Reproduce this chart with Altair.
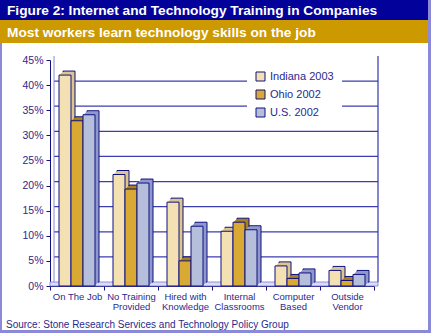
import json
import altair as alt
import pandas as pd

# ---------------- data ----------------
categories = ["On The Job", "No Training Provided", "Hired with Knowledge",
              "Internal Classrooms", "Computer Based", "Outside Vendor"]
label_lines = [["On The Job"], ["No Training", "Provided"], ["Hired with", "Knowledge"],
               ["Internal", "Classrooms"], ["Computer", "Based"], ["Outside", "Vendor"]]
series = ["Indiana 2003", "Ohio 2002", "U.S. 2002"]
indiana_2003 = [42.0, 22.2, 16.7, 10.9, 4.0, 3.1]
ohio_2002 = [32.9, 19.3, 5.0, 12.7, 1.5, 1.1]
us_2002 = [34.1, 20.5, 11.9, 11.2, 2.6, 2.3]
y_ticks = [0, 5, 10, 15, 20, 25, 30, 35, 40, 45]
grid_values = [5, 10, 15, 20, 25, 30, 35, 40]

title_text = "Figure 2: Internet and Technology Training in Companies"
subtitle_text = "Most workers learn technology skills on the job"
source_text = "Source: Stone Research Services and Technology Policy Group"

# ---------------- styles ----------------
front_colors = ["#f3e1b3", "#d9aa33", "#b5bfdc"]
side_colors = {"Indiana 2003": "#dcc690", "Ohio 2002": "#a9801e", "U.S. 2002": "#8f98cc"}
NAVY = "#10107e"
TEXT = "#2a2a8c"
FONT = "Liberation Sans"

rows = []
for i, c in enumerate(categories):
    for s, vals in zip(series, [indiana_2003, ohio_2002, us_2002]):
        rows.append({"category": c, "series": s, "value": vals[i], "side": side_colors[s]})
df = pd.DataFrame(rows)
grid_df = pd.DataFrame({"value": grid_values})
one = pd.DataFrame({"a": [0]})

W, H = 324, 226
BAND = W / len(categories)
PAD_L, PAD_T = 50, 60
TOTAL_W, TOTAL_H = 431, 333

label_map = json.dumps(dict(zip(categories, label_lines)))

x_enc = alt.X("category:N", sort=categories,
              scale=alt.Scale(paddingInner=0, paddingOuter=0),
              axis=alt.Axis(title=None, labelAngle=0, tickBand="extent",
                            labelExpr=f"{label_map}[datum.value]",
                            labelFont=FONT, labelFontSize=9.5, labelColor=TEXT,
                            labelLineHeight=10.5, labelPadding=1,
                            tickSize=4, tickColor=NAVY, domainColor=NAVY,
                            labelBaseline="top"))
y_scale = alt.Scale(domain=[0, 45], nice=False)
y_enc = alt.Y("value:Q", scale=y_scale,
              axis=alt.Axis(title=None, values=y_ticks, labelExpr="datum.value + '%'",
                            labelFont=FONT, labelFontSize=10.5, labelColor=TEXT,
                            tickSize=4, tickColor=NAVY, domainColor=NAVY,
                            labelPadding=3, grid=False))


def xoff(shift):
    return alt.XOffset("series:N", sort=series,
                       scale=alt.Scale(domain=series, paddingOuter=0.75, paddingInner=0,
                                       range=[shift, BAND + shift]))


def rect(x1, x2, y1, y2, color):
    return alt.Chart(one).mark_rect(color=color).encode(
        x=alt.value(x1 - PAD_L), x2=alt.value(x2 - PAD_L),
        y=alt.value(y1 - PAD_T), y2=alt.value(y2 - PAD_T))


def text(x, y, s, size, color, bold=False):
    return alt.Chart(one).mark_text(
        text=s, align="left", baseline="alphabetic", font=FONT,
        fontSize=size, fontWeight="bold" if bold else "normal", color=color
    ).encode(x=alt.value(x - PAD_L), y=alt.value(y - PAD_T))


frame = [
    rect(0, 2, 43, TOTAL_H, "#8a8ad8"),
    rect(428, TOTAL_W, 0, TOTAL_H, "#8a8ad8"),
    rect(0, TOTAL_W, 330, TOTAL_H, "#8a8ad8"),
    rect(0, 428, 0, 20, "#02029a"),
    rect(0, 428, 20, 43, "#cc9900"),
    text(7, 15, title_text, 13.7, "white", bold=True),
    text(7, 37, subtitle_text, 13.7, "white", bold=True),
    text(6, 327.5, source_text, 10, TEXT),
]

floor = alt.Chart(one).mark_rect(color="#dcdcf6", stroke="#7a7ad0", strokeWidth=0.8).encode(
    x=alt.value(0), x2=alt.value(W + 4), y=alt.value(H - 4), y2=alt.value(H))
left_wall = alt.Chart(one).mark_rule(color="#8a8ad8", strokeWidth=1).encode(
    x=alt.value(4), y=alt.value(-4), y2=alt.value(H - 4))
right_wall = alt.Chart(one).mark_rule(color="#3535b0", strokeWidth=1.2).encode(
    x=alt.value(W + 4), y=alt.value(-4), y2=alt.value(H - 4))
grid = alt.Chart(grid_df).mark_rule(color="#3d3db2", strokeWidth=1.2, yOffset=-4).encode(
    y=y_enc, x=alt.value(4), x2=alt.value(W + 4))

extrusions = []
for k in [4, 3, 2, 1]:
    extrusions.append(
        alt.Chart(df).mark_bar(yOffset=-k,
                               stroke=NAVY if k == 4 else None,
                               strokeWidth=1 if k == 4 else 0).encode(
            x=x_enc, xOffset=xoff(k), y=y_enc,
            fill=alt.Fill("side:N", scale=None)))

front = alt.Chart(df).mark_bar(stroke=NAVY, strokeWidth=1).encode(
    x=x_enc, xOffset=xoff(0), y=y_enc,
    fill=alt.Fill("series:N", sort=series,
                  scale=alt.Scale(domain=series, range=front_colors),
                  legend=alt.Legend(title=None, orient="none", legendX=197, legendY=3,
                                    fillColor="white", padding=8, symbolType="square",
                                    symbolSize=81, symbolStrokeColor=NAVY,
                                    symbolStrokeWidth=1, labelFont=FONT,
                                    labelFontSize=11, labelColor=TEXT,
                                    rowPadding=5, labelOffset=4)))

chart = alt.layer(*frame, floor, grid, left_wall, right_wall, *extrusions, front).resolve_scale(
    xOffset="independent"
).properties(
    width=W, height=H,
    autosize=alt.AutoSizeParams(type="none"),
    padding={"left": PAD_L, "top": PAD_T, "right": TOTAL_W - PAD_L - W,
             "bottom": TOTAL_H - PAD_T - H},
    background="white",
).configure_view(stroke=None)

chart.save("out.html", embed_options={"renderer": "svg", "actions": False})
